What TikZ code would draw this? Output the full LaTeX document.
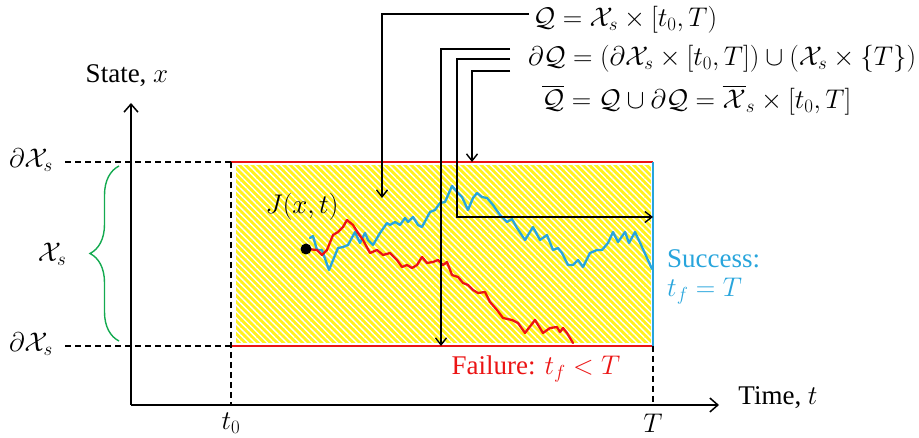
\RequirePackage{fix-cm}
\documentclass[tikz,border=0pt]{standalone}
\usepackage{amsmath}
\usepackage{fontspec}
\setmainfont{Liberation Serif}
\usetikzlibrary{arrows.meta,patterns.meta,decorations.pathreplacing}
\definecolor{pathred}{RGB}{235,20,20}
\definecolor{pathblue}{RGB}{40,165,220}
\definecolor{bracegreen}{RGB}{20,170,80}
\definecolor{fillyellow}{RGB}{255,242,30}
\tikzset{
  lab/.style={font=\fontsize{27}{31}\selectfont, inner sep=0pt},
  axis/.style={line width=1.5pt, -{Straight Barb[length=8pt,width=14pt,line width=1.5pt]}},
  conn/.style={line width=1.4pt, -{Straight Barb[length=7pt,width=11pt,line width=1.4pt]}},
  guide/.style={line width=1.3pt, dash pattern=on 6pt off 4pt},
  traj/.style={line width=2.3pt, line join=round, line cap=round},
}
\begin{document}
\begin{tikzpicture}[x=1pt,y=-1pt]
\useasboundingbox (0,0) rectangle (919,438);
% region
\fill[fillyellow] (236,165) rectangle (651,343);
\fill[pattern={Lines[angle=-45, distance=4.5pt, line width=1.4pt]}, pattern color=white] (236,165) rectangle (651,343);
% corner coordinates
\coordinate (tl) at (231,162);
\coordinate (tr) at (653,162);
\coordinate (bl) at (231,346);
\coordinate (br) at (653,346);
\coordinate (o) at (131,405);
\coordinate (yend) at (131,103);
\coordinate (xend) at (719,405);
\coordinate (t0b) at (231,405);
\coordinate (Tb) at (653,405);
\coordinate (dl1) at (65,162);
\coordinate (dl2) at (65,346);
% boundaries
\draw[pathred, line width=1.5pt] (tl) -- (tr);
\draw[pathred, line width=1.5pt] (bl) -- (br);
\draw[pathblue, line width=1.5pt] (tr) -- (br);
% dashed guides
\draw[guide] (dl1) -- (tl);
\draw[guide] (dl2) -- (bl);
\draw[guide] (tl) -- (t0b);
\draw[guide] (br) -- (Tb);
% axes
\draw[axis] (o) -- (yend);
\draw[axis] (o) -- (xend);
\node[lab] (ylab) at (127,76) {State, $x$};
\node[lab] (xlab) at (778,398) {Time, $t$};
\node[lab] (t0) at (231,423) {$t_0$};
\node[lab] (Tl) at (653,423) {$T$};
\node[lab] (dX1) at (31,160) {$\partial\mathcal{X}_s$};
\node[lab] (dX2) at (31,344) {$\partial\mathcal{X}_s$};
\node[lab] (Xs) at (52,254) {$\mathcal{X}_s$};
% brace
\coordinate (bb) at (119,341);
\coordinate (bt) at (119,166);
\draw[bracegreen, line width=1.4pt, decorate, decoration={brace, amplitude=29pt}] (bb) -- (bt);
% trajectories
\draw[traj, pathblue] (310,238) -- (313,236) -- (317,250) -- (322,250) -- (329,270) -- (338,248) -- (343,247) -- (348,245) -- (355,232) -- (360,243) -- (365,233) -- (368,240) -- (373,245) -- (380,233) -- (387,223) -- (390,225) -- (395,222) -- (400,225) -- (405,218) -- (408,222) -- (413,217) -- (418,225) -- (422,227) -- (430,212) -- (435,210) -- (440,203) -- (445,202) -- (452,186) -- (457,192) -- (462,197) -- (468,210) -- (473,198) -- (477,193) -- (482,197) -- (487,198) -- (493,205) -- (500,215) -- (507,222) -- (512,219) -- (517,228) -- (525,240) -- (533,227) -- (540,240) -- (547,235) -- (553,250) -- (558,248) -- (562,253) -- (568,265) -- (573,265) -- (578,260) -- (583,267) -- (590,253) -- (597,250) -- (602,250) -- (608,243) -- (613,232) -- (618,242) -- (625,232) -- (629,243) -- (635,232) -- (642,247) -- (652,269);
\draw[traj, pathred] (307,249) -- (317,250) -- (322,255) -- (327,250) -- (333,235) -- (338,232) -- (343,227) -- (347,220) -- (353,225) -- (358,233) -- (363,240) -- (370,253) -- (377,250) -- (383,255) -- (390,253) -- (397,260) -- (402,267) -- (407,265) -- (412,268) -- (417,265) -- (422,257) -- (427,263) -- (433,262) -- (438,260) -- (443,265) -- (447,262) -- (452,275) -- (458,277) -- (463,283) -- (468,285) -- (473,290) -- (478,293) -- (485,292) -- (490,302) -- (497,310) -- (503,318) -- (512,320) -- (518,323) -- (525,333) -- (535,320) -- (543,333) -- (550,328) -- (557,327) -- (560,332) -- (563,328) -- (567,333) -- (573,343);
\node[circle, fill=black, inner sep=0pt, minimum size=11pt] (start) at (306,249) {};
\node[lab] (J) at (302,207) {$J(x,t)$};
% outcome labels
\node[lab, text=pathblue, anchor=west, align=left] (succ) at (667,277) {Success:\\[-2pt]$t_f = T$};
\node[lab, text=pathred] (fail) at (536,369) {Failure: $t_f < T$};
% equations
\node[lab, anchor=west] (eq1) at (533,20) {$\mathcal{Q} = \mathcal{X}_s \times [t_0, T)$};
\node[lab, anchor=west] (eq2) at (528,59) {$\partial\mathcal{Q} = (\partial\mathcal{X}_s \times [t_0, T]) \cup (\mathcal{X}_s \times \{T\})$};
\node[lab, anchor=west] (eq3) at (542,100) {$\overline{\mathcal{Q}} = \mathcal{Q} \cup \partial\mathcal{Q} = \overline{\mathcal{X}}_s \times [t_0, T]$};
% connectors
\coordinate (s1) at (529,14);
\coordinate (e1) at (382,198);
\coordinate (s2) at (510,49);
\coordinate (e2) at (441,346);
\coordinate (s3) at (510,59);
\coordinate (e3) at (653,217);
\coordinate (s4) at (510,71);
\coordinate (e4) at (472,162);
\draw[conn] (s1) -| (e1);
\draw[conn] (s2) -| (e2);
\draw[conn] (s3) -| (457,217) -- (e3);
\draw[conn] (s4) -| (e4);
\end{tikzpicture}
\end{document}
